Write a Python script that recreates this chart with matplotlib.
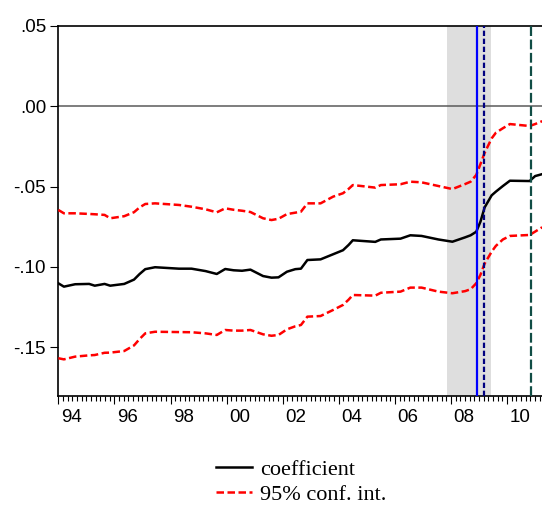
import numpy as np
import matplotlib
matplotlib.use('Agg')
import matplotlib.pyplot as plt
from matplotlib.lines import Line2D

# fractional years of the readings
dates = [1994.00, 1994.20, 1994.60, 1995.10, 1995.30, 1995.65, 1995.85, 1996.35,
         1996.70, 1996.90, 1997.10, 1997.45, 1998.30, 1998.75, 1999.25, 1999.65,
         1999.95, 2000.25, 2000.55, 2000.85, 2001.30, 2001.60, 2001.85, 2002.15,
         2002.45, 2002.65, 2002.88, 2003.35, 2003.80, 2004.15, 2004.35, 2004.50,
         2005.30, 2005.50, 2006.20, 2006.55, 2006.95, 2007.55, 2008.05, 2008.50,
         2008.70, 2008.90, 2009.05, 2009.20, 2009.45, 2009.60, 2009.85, 2010.10,
         2010.80, 2011.00, 2011.25]
coef = [-0.1103, -0.1124, -0.1109, -0.1107, -0.1118, -0.1107, -0.1118, -0.1107,
        -0.1080, -0.1045, -0.1015, -0.1003, -0.1012, -0.1012, -0.1027, -0.1045,
        -0.1014, -0.1022, -0.1025, -0.1018, -0.1058, -0.1068, -0.1066, -0.1031,
        -0.1015, -0.1012, -0.0958, -0.0954, -0.0922, -0.0897, -0.0864, -0.0835,
        -0.0845, -0.0830, -0.0825, -0.0804, -0.0808, -0.0830, -0.0844, -0.0817,
        -0.0804, -0.0782, -0.0719, -0.0630, -0.0555, -0.0532, -0.0497, -0.0464,
        -0.0466, -0.0435, -0.0423]
upper = [-0.0646, -0.0667, -0.0667, -0.0671, -0.0673, -0.0677, -0.0698, -0.0685,
         -0.0660, -0.0630, -0.0609, -0.0605, -0.0615, -0.0626, -0.0642, -0.0661,
         -0.0636, -0.0645, -0.0651, -0.0659, -0.0698, -0.0709, -0.0701, -0.0672,
         -0.0663, -0.0657, -0.0605, -0.0605, -0.0563, -0.0542, -0.0515, -0.0491,
         -0.0507, -0.0491, -0.0486, -0.0470, -0.0474, -0.0497, -0.0516, -0.0485,
         -0.0470, -0.0428, -0.0360, -0.0290, -0.0200, -0.0165, -0.0137, -0.0111,
         -0.0123, -0.0111, -0.0093]
lower = [-0.1570, -0.1577, -0.1560, -0.1552, -0.1550, -0.1536, -0.1535, -0.1525,
         -0.1490, -0.1450, -0.1415, -0.1405, -0.1407, -0.1408, -0.1415, -0.1425,
         -0.1394, -0.1398, -0.1398, -0.1394, -0.1421, -0.1430, -0.1425, -0.1390,
         -0.1371, -0.1363, -0.1311, -0.1307, -0.1269, -0.1238, -0.1205, -0.1176,
         -0.1180, -0.1162, -0.1155, -0.1130, -0.1130, -0.1155, -0.1165, -0.1152,
         -0.1140, -0.1103, -0.1050, -0.0980, -0.0906, -0.0870, -0.0830, -0.0808,
         -0.0802, -0.0781, -0.0754]

# events
recession = (2007.85, 2009.42)
event_solid = 2008.94
event_dash = 2009.18
event_green = 2010.85

yticks = [-0.15, -0.10, -0.05, 0.00, 0.05]
ytick_labels = ['-.15', '-.10', '-.05', '.00', '.05']
year_ticks = list(range(1994, 2011, 2))
year_labels = ['94', '96', '98', '00', '02', '04', '06', '08', '10']

fig = plt.figure(figsize=(5.42, 5.07), dpi=100)
ax = fig.add_axes([58.3/542, 1-396/507, 1-58.3/542, 370/507])

ax.axvspan(*recession, color='#dedede', lw=0, zorder=0)
ax.axhline(0, color='#5a5a5a', lw=1.1, zorder=1)

ax.plot(dates, upper, color='#ff0000', lw=1.8, dashes=(3.0, 1.4), zorder=3)
ax.plot(dates, lower, color='#ff0000', lw=1.8, dashes=(3.0, 1.4), zorder=3)
ax.plot(dates, coef, color='black', lw=1.8, zorder=4)

ax.axvline(event_solid, color='#0000ff', lw=1.6, zorder=5)
ax.axvline(event_dash, color='#000080', lw=1.6, dashes=(2.4, 1.2), zorder=5)
ax.axvline(event_green, color='#114d45', lw=1.6, dashes=(4.4, 1.6), zorder=5)

ax.set_xlim(1994.0, 1994 + (542-58.3)/28.05)
ax.set_ylim(0.05 - 370/1605, 0.05)

# ticks
ax.set_yticks(yticks, ytick_labels, fontfamily='Liberation Sans', fontsize=13.5)
ax.tick_params(axis='y', length=5.8, width=0.8, pad=3)
ax.set_xticks(year_ticks, [])
ax.set_xticks(np.arange(1994, 2011.25, 1/6), minor=True)
ax.tick_params(axis='x', which='major', length=5.8, width=0.8)
ax.tick_params(axis='x', which='minor', length=3.6, width=0.8)

sec = ax.secondary_xaxis('bottom')
sec.set_xticks([y + 0.47 for y in year_ticks], year_labels,
               fontfamily='Liberation Sans', fontsize=13.5)
sec.tick_params(length=0, pad=9.3)
sec.spines['bottom'].set_visible(False)

ax.spines['right'].set_visible(False)
for s in ['left', 'top', 'bottom']:
    ax.spines[s].set_linewidth(1.2)

# legend
handles = [Line2D([], [], color='black', lw=1.8),
           Line2D([], [], color='#ff0000', lw=1.8, dashes=(3.0, 1.4))]
fig.legend(handles, ['coefficient', '95% conf. int.'], loc='upper left',
           bbox_to_anchor=(216/542, 1-459/507), frameon=False,
           prop={'family': 'Liberation Serif', 'size': 16},
           borderpad=0, borderaxespad=0, handlelength=1.62,
           handletextpad=0.36, labelspacing=0.22)

fig.savefig('out.png', dpi=100)
